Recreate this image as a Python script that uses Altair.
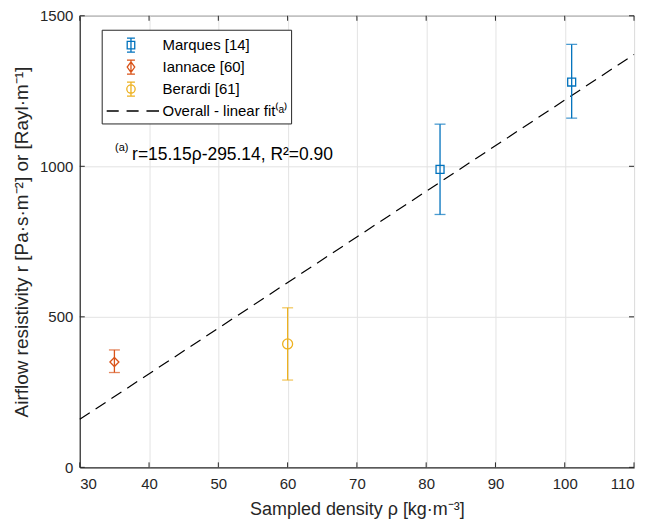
import altair as alt
import pandas as pd

# ---- data ----
series = ["Marques [14]", "Iannace [60]", "Berardi [61]"]
point_series = ["Marques [14]", "Marques [14]", "Iannace [60]", "Berardi [61]"]
density = [82, 101, 35, 60]
resistivity = [990, 1280, 350, 410]
err_low = [840, 1160, 315, 290]
err_high = [1140, 1405, 390, 530]
fit_x = [30, 110]
fit_y = [159.4, 1371.4]
fit_label = "Overall - linear fit⁽ᵃ⁾"
x_ticks = [30, 40, 50, 60, 70, 80, 90, 100, 110]
y_ticks = [0, 500, 1000, 1500]
annot_sup = "(a)"
annot_text = "r=15.15ρ-295.14, R²=0.90"

# ---- styles / layout ----
W, H = 556, 453
colors = {"Marques [14]": "#0072BD", "Iannace [60]": "#D95319", "Berardi [61]": "#EDB120"}
shapes = {"Marques [14]": "square", "Iannace [60]": "diamond", "Berardi [61]": "circle"}
msize = {"Marques [14]": 64, "Iannace [60]": 81, "Berardi [61]": 100}
C = 1.32  # glyph centre (in symbol units) inside the legend entry
def eb(marker):
    return (f"M{C},-0.67L{C},0.67M{C-0.38},-0.67L{C+0.38},-0.67M{C-0.38},0.67L{C+0.38},0.67" + marker)
legend_paths = [
    eb(f"M{C-0.36},-0.36L{C+0.36},-0.36L{C+0.36},0.36L{C-0.36},0.36Z"),
    eb(f"M{C},-0.5L{C+0.36},0L{C},0.5L{C-0.36},0Z"),
    eb(f"M{C+0.4},0A0.4,0.4 0 1,1 {C-0.4},0A0.4,0.4 0 1,1 {C+0.4},0"),
    "M-1,0L0.15,0M0.9,0L2.05,0M2.8,0L4.0,0",
]
FONT = "Liberation Sans"

df = pd.DataFrame({"series": point_series, "x": density, "y": resistivity,
                   "lo": err_low, "hi": err_high})
fit_df = pd.DataFrame({"x": fit_x, "y": fit_y})

xs = alt.Scale(domain=[30, 110], nice=False)
ys = alt.Scale(domain=[0, 1500], nice=False)
xaxis = alt.Axis(values=x_ticks, title="Sampled density ρ [kg·m⁻³]", grid=True,
                 labelPadding=9, titlePadding=9, titleFontSize=18)
yaxis = alt.Axis(values=y_ticks, title="Airflow resistivity r [Pa·s·m⁻²] or [Rayl·m⁻¹]",
                 grid=True, format="d", labelPadding=7, titlePadding=8, titleFontSize=19)

layers = []
fit = alt.Chart(fit_df).mark_line(color="black", strokeWidth=1.2, strokeDash=[12, 7]).encode(
    x=alt.X("x:Q", scale=xs, axis=xaxis),
    y=alt.Y("y:Q", scale=ys, axis=yaxis),
)
layers.append(fit)

# inward ticks (MATLAB style) on all four sides
xt = pd.DataFrame({"x": x_ticks})
yt = pd.DataFrame({"y": y_ticks})
tick_col = "#262626"
layers.append(alt.Chart(xt).mark_rule(color=tick_col).encode(
    x=alt.X("x:Q", scale=xs), y=alt.value(H), y2=alt.value(H - 5)))
layers.append(alt.Chart(xt).mark_rule(color=tick_col).encode(
    x=alt.X("x:Q", scale=xs), y=alt.value(0), y2=alt.value(5)))
layers.append(alt.Chart(yt).mark_rule(color=tick_col).encode(
    y=alt.Y("y:Q", scale=ys), x=alt.value(0), x2=alt.value(5)))
layers.append(alt.Chart(yt).mark_rule(color=tick_col).encode(
    y=alt.Y("y:Q", scale=ys), x=alt.value(W), x2=alt.value(W - 5)))

for s in series:
    sub = df[df.series == s]
    c = colors[s]
    base = alt.Chart(sub)
    layers.append(base.mark_rule(color=c, strokeWidth=1.3).encode(
        x=alt.X("x:Q", scale=xs), y=alt.Y("lo:Q", scale=ys), y2="hi:Q"))
    layers.append(base.mark_tick(color=c, orient="horizontal", size=11, thickness=1.3).encode(
        x=alt.X("x:Q", scale=xs), y=alt.Y("lo:Q", scale=ys)))
    layers.append(base.mark_tick(color=c, orient="horizontal", size=11, thickness=1.3).encode(
        x=alt.X("x:Q", scale=xs), y=alt.Y("hi:Q", scale=ys)))
    layers.append(base.mark_point(color=c, shape=shapes[s], filled=False, size=msize[s],
                                  strokeWidth=1.3, opacity=1).encode(
        x=alt.X("x:Q", scale=xs), y=alt.Y("y:Q", scale=ys)))

# annotation
ann1 = alt.Chart(pd.DataFrame({"x": [35.1], "y": [1061], "t": [annot_sup]})).mark_text(
    align="left", baseline="middle", font=FONT, fontSize=11, color="black").encode(
    x=alt.X("x:Q", scale=xs), y=alt.Y("y:Q", scale=ys), text="t:N")
ann2 = alt.Chart(pd.DataFrame({"x": [37.55], "y": [1038], "t": [annot_text]})).mark_text(
    align="left", baseline="middle", font=FONT, fontSize=17.5, color="black").encode(
    x=alt.X("x:Q", scale=xs), y=alt.Y("y:Q", scale=ys), text="t:N")
layers += [ann1, ann2]

# legend
leg_domain = series + [fit_label]
leg_colors = [colors[s] for s in series] + ["black"]
legend = alt.Legend(title=None, orient="none", legendX=22, legendY=14,
                    strokeColor="#262626", fillColor="white", padding=4,
                    symbolSize=441, symbolStrokeWidth=1.3, symbolOpacity=1,
                    labelFont=FONT, labelFontSize=15, labelColor="black",
                    labelOffset=34, rowPadding=0, cornerRadius=0)
leg_layer = alt.Chart(pd.DataFrame({"series": leg_domain})).mark_point(
    filled=False, opacity=0).encode(
    x=alt.value(0), y=alt.value(0),
    color=alt.Color("series:N", scale=alt.Scale(domain=leg_domain, range=leg_colors), legend=legend),
    shape=alt.Shape("series:N", scale=alt.Scale(domain=leg_domain, range=legend_paths), legend=legend),
)
layers.append(leg_layer)

chart = alt.layer(*layers).properties(
    width=W, height=H,
    padding={"left": 4, "top": 0, "right": 5, "bottom": 0},
).configure_view(stroke="#262626", strokeWidth=1).configure_axis(
    labelFont=FONT, labelFontSize=15, labelColor="#262626",
    titleFont=FONT, titleFontWeight="normal", titleColor="#262626",
    gridColor="#e3e3e3", gridWidth=1, domainColor="#262626",
    ticks=False,
)

chart.save("out.html", embed_options={"renderer": "svg", "actions": False})
